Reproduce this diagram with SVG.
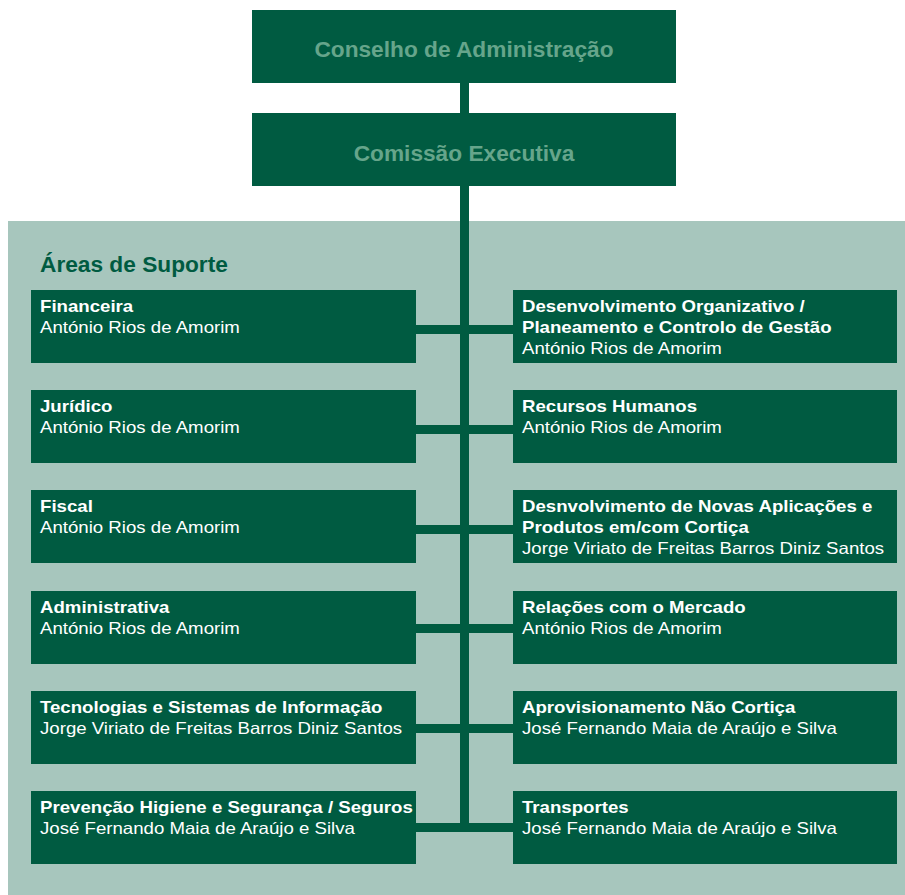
<svg xmlns="http://www.w3.org/2000/svg" width="905" height="895" viewBox="0 0 905 895">
<style>
.box{fill:#005b41}
.top{font-family:"Liberation Sans",Arial,sans-serif;font-weight:bold;font-size:22.7px;fill:#66a58b;text-anchor:middle}
.t{font-family:"Liberation Sans",Arial,sans-serif;font-weight:bold;font-size:16.5px;fill:#ffffff}
.n{font-family:"Liberation Sans",Arial,sans-serif;font-size:16.5px;fill:#ffffff}
.h{font-family:"Liberation Sans",Arial,sans-serif;font-weight:bold;font-size:22.7px;fill:#005b41}
.c{fill:#005b41}
</style>
<rect x="0" y="0" width="905" height="895" fill="#ffffff"/>
<rect x="8" y="221" width="897" height="674" fill="#a7c6bd"/>
<g id="connectors">
<rect class="c" x="460" y="83" width="9" height="30"/>
<rect class="c" x="460" y="186" width="9" height="646"/>
<rect class="c" x="416" y="325" width="97" height="9"/>
<rect class="c" x="416" y="425" width="97" height="9"/>
<rect class="c" x="416" y="525" width="97" height="9"/>
<rect class="c" x="416" y="624" width="97" height="9"/>
<rect class="c" x="416" y="724" width="97" height="9"/>
<rect class="c" x="416" y="823" width="97" height="9"/>
</g>
<g id="conselho"><rect class="box" x="252" y="10" width="424" height="73"/><text class="top" x="464" y="57">Conselho de Administração</text></g>
<g id="comissao"><rect class="box" x="252" y="113" width="424" height="73"/><text class="top" x="464" y="161">Comissão Executiva</text></g>
<text class="h" x="40" y="272">Áreas de Suporte</text>
<g id="financeira"><rect class="box" x="31" y="290" width="385" height="73"/><text class="t" transform="scale(1.13,1)" x="35.4" y="312">Financeira</text><text class="n" transform="scale(1.13,1)" x="35.4" y="333">António Rios de Amorim</text></g>
<g id="juridico"><rect class="box" x="31" y="390" width="385" height="73"/><text class="t" transform="scale(1.13,1)" x="35.4" y="412">Jurídico</text><text class="n" transform="scale(1.13,1)" x="35.4" y="433">António Rios de Amorim</text></g>
<g id="fiscal"><rect class="box" x="31" y="490" width="385" height="73"/><text class="t" transform="scale(1.13,1)" x="35.4" y="512">Fiscal</text><text class="n" transform="scale(1.13,1)" x="35.4" y="533">António Rios de Amorim</text></g>
<g id="administrativa"><rect class="box" x="31" y="591" width="385" height="73"/><text class="t" transform="scale(1.13,1)" x="35.4" y="613">Administrativa</text><text class="n" transform="scale(1.13,1)" x="35.4" y="634">António Rios de Amorim</text></g>
<g id="tecnologias"><rect class="box" x="31" y="691" width="385" height="73"/><text class="t" transform="scale(1.13,1)" x="35.4" y="713">Tecnologias e Sistemas de Informação</text><text class="n" transform="scale(1.13,1)" x="35.4" y="734">Jorge Viriato de Freitas Barros Diniz Santos</text></g>
<g id="prevencao"><rect class="box" x="31" y="791" width="385" height="73"/><text class="t" transform="scale(1.13,1)" x="35.4" y="813">Prevenção Higiene e Segurança / Seguros</text><text class="n" transform="scale(1.13,1)" x="35.4" y="834">José Fernando Maia de Araújo e Silva</text></g>
<g id="desenvolvimento"><rect class="box" x="513" y="290" width="384" height="73"/><text class="t" transform="scale(1.13,1)" x="461.95" y="312">Desenvolvimento Organizativo /</text><text class="t" transform="scale(1.13,1)" x="461.95" y="333">Planeamento e Controlo de Gestão</text><text class="n" transform="scale(1.13,1)" x="461.95" y="354">António Rios de Amorim</text></g>
<g id="rh"><rect class="box" x="513" y="390" width="384" height="73"/><text class="t" transform="scale(1.13,1)" x="461.95" y="412">Recursos Humanos</text><text class="n" transform="scale(1.13,1)" x="461.95" y="433">António Rios de Amorim</text></g>
<g id="novas"><rect class="box" x="513" y="490" width="384" height="73"/><text class="t" transform="scale(1.13,1)" x="461.95" y="512">Desnvolvimento de Novas Aplicações e</text><text class="t" transform="scale(1.13,1)" x="461.95" y="533">Produtos em/com Cortiça</text><text class="n" transform="scale(1.13,1)" x="461.95" y="554">Jorge Viriato de Freitas Barros Diniz Santos</text></g>
<g id="mercado"><rect class="box" x="513" y="591" width="384" height="73"/><text class="t" transform="scale(1.13,1)" x="461.95" y="613">Relações com o Mercado</text><text class="n" transform="scale(1.13,1)" x="461.95" y="634">António Rios de Amorim</text></g>
<g id="aprovisionamento"><rect class="box" x="513" y="691" width="384" height="73"/><text class="t" transform="scale(1.13,1)" x="461.95" y="713">Aprovisionamento Não Cortiça</text><text class="n" transform="scale(1.13,1)" x="461.95" y="734">José Fernando Maia de Araújo e Silva</text></g>
<g id="transportes"><rect class="box" x="513" y="791" width="384" height="73"/><text class="t" transform="scale(1.13,1)" x="461.95" y="813">Transportes</text><text class="n" transform="scale(1.13,1)" x="461.95" y="834">José Fernando Maia de Araújo e Silva</text></g>
</svg>
